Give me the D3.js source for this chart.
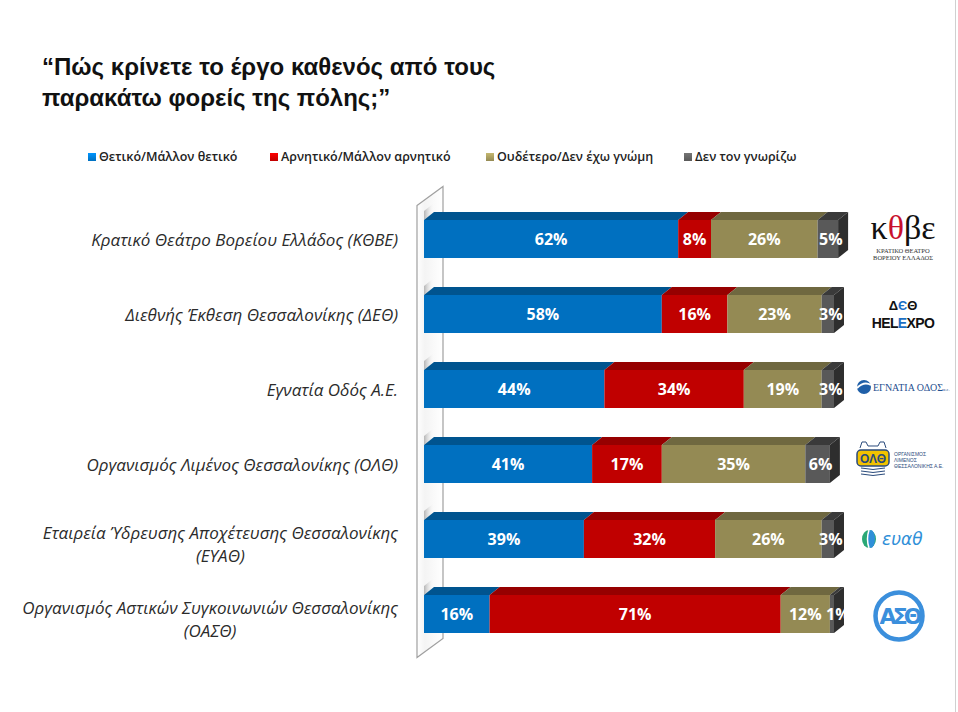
<!DOCTYPE html>
<html>
<head>
<meta charset="utf-8">
<script src="https://cdn.jsdelivr.net/npm/d3@7"></script>
<style>
  body { margin: 0; background: #fff; }
  svg { display: block; }
</style>
</head>
<body>
<div id="chart"></div>
<script>
// survey data, values in %
const categories = [
  "Κρατικό Θεάτρο Βορείου Ελλάδος (ΚΘΒΕ)",
  "Διεθνής Έκθεση Θεσσαλονίκης (ΔΕΘ)",
  "Εγνατία Οδός Α.Ε.",
  "Οργανισμός Λιμένος Θεσσαλονίκης (ΟΛΘ)",
  "Εταιρεία Ύδρευσης Αποχέτευσης Θεσσαλονίκης|(ΕΥΑΘ)",
  "Οργανισμός Αστικών Συγκοινωνιών Θεσσαλονίκης|(ΟΑΣΘ)"
];
const positive = [62, 58, 44, 41, 39, 16];
const negative = [8, 16, 34, 17, 32, 71];
const neutral = [26, 23, 19, 35, 26, 12];
const unknown = [5, 3, 3, 6, 3, 1];
const seriesNames = ["Θετικό/Μάλλον θετικό", "Αρνητικό/Μάλλον αρνητικό", "Ουδέτερο/Δεν έχω γνώμη", "Δεν τον γνωρίζω"];
const logos = ["kthve", "deth", "egnatia", "olth", "eyath", "oasth"];

const W = 958, H = 712;
const frontCol = ["#0070c0", "#c00000", "#948a54", "#595959"];
const topCol = ["#00548f", "#960000", "#6f6840", "#3a3a3a"];
const sideCol = ["#004a80", "#800000", "#5e5836", "#2e2e2e"];
const keys = ["pos", "neg", "neu", "unk"];

const rows = categories.map((c, i) => ({
  name: c, pos: positive[i], neg: negative[i], neu: neutral[i], unk: unknown[i], logo: logos[i]
}));

const svg = d3.select("#chart").append("svg").attr("width", W).attr("height", H);

const defs = svg.append("defs");
const wallGrad = defs.append("linearGradient").attr("id", "wallGrad").attr("x1", 0).attr("x2", 1);
wallGrad.append("stop").attr("offset", 0).attr("stop-color", "#ffffff");
wallGrad.append("stop").attr("offset", 0.3).attr("stop-color", "#f4f4f4");
wallGrad.append("stop").attr("offset", 1).attr("stop-color", "#ffffff");
const shadeGrad = defs.append("linearGradient").attr("id", "shadeGrad").attr("x1", 0).attr("x2", 1);
shadeGrad.append("stop").attr("offset", 0).attr("stop-color", "#9a9a9a");
shadeGrad.append("stop").attr("offset", 1).attr("stop-color", "#ffffff").attr("stop-opacity", 0);
frontCol.forEach((c, i) => {
  const g = defs.append("linearGradient").attr("id", "leg" + i).attr("x1", 0).attr("x2", 0).attr("y1", 0).attr("y2", 1);
  g.append("stop").attr("offset", 0).attr("stop-color", d3.color(c).brighter(0.8));
  g.append("stop").attr("offset", 1).attr("stop-color", c);
});

// title
const title = svg.append("text")
  .style("font-family", "'Liberation Sans', Arial, sans-serif")
  .style("font-weight", "bold").style("font-size", "24px").attr("fill", "#111");
title.append("tspan").attr("x", 42).attr("y", 75).text("“Πώς κρίνετε το έργο καθενός από τους");
title.append("tspan").attr("x", 42).attr("y", 106).text("παρακάτω φορείς της πόλης;”");

// legend
const legendX = [88, 270, 486, 684];
const legend = svg.append("g").selectAll("g").data(seriesNames).join("g")
  .attr("transform", (d, i) => `translate(${legendX[i]},161)`);
legend.append("rect").attr("x", 0).attr("y", -8).attr("width", 8).attr("height", 8)
  .attr("fill", (d, i) => `url(#leg${i})`);
legend.append("text").attr("x", 11).attr("y", 0)
  .style("font-family", "'Open Sans', sans-serif").style("font-size", "12.5px").style("font-weight", 600)
  .attr("fill", "#222").text(d => d);

// scales
const x = d3.scaleLinear().domain([0, 100]).range([424, 834]);
const y = d3.scaleBand().domain(categories).range([201.5, 651.5]).paddingInner(0.4933).paddingOuter(0.2467);
const dx = 10, dy = -8;

// left 3D wall
const wallTop = y.range()[0] + 4, wallBot = y.range()[1] + 6;
svg.append("path")
  .attr("d", `M417,${wallTop} L443,${wallTop - 19} L443,${wallBot - 19} L417,${wallBot} Z`)
  .attr("fill", "url(#wallGrad)").attr("stroke", "#a0a0a0").attr("stroke-width", 1.2);

const stack = d3.stack().keys(keys)(rows);

const bars = svg.append("g");
rows.forEach((r, ri) => {
  const y0 = y(r.name), bh = y.bandwidth();
  // shadow on wall above the bar
  bars.append("path")
    .attr("d", `M424,${y0} L434,${y0 + dy} L434,${y0 + dy - 9} L424,${y0 - 9} Z`)
    .attr("fill", "url(#shadeGrad)").attr("opacity", 0.7);
  stack.forEach((s, si) => {
    const d = s[ri];
    const a = x(d[0]), b = x(d[1]);
    bars.append("path")
      .attr("d", `M${a},${y0} L${a + dx},${y0 + dy} L${b + dx},${y0 + dy} L${b},${y0} Z`)
      .attr("fill", topCol[si]);
    bars.append("rect").attr("x", a).attr("y", y0).attr("width", b - a).attr("height", bh)
      .attr("fill", frontCol[si]);
    if (si === keys.length - 1) {
      bars.append("path")
        .attr("d", `M${b},${y0} L${b + dx},${y0 + dy} L${b + dx},${y0 + bh + dy} L${b},${y0 + bh} Z`)
        .attr("fill", sideCol[si]);
    }
  });
  stack.forEach((s, si) => {
    const d = s[ri];
    const a = x(d[0]), b = x(d[1]);
    const shift = si === 3 ? Math.max(3, 10 - (b - a)) : 0;
    bars.append("text")
      .attr("x", (a + b) / 2 + shift)
      .attr("y", y0 + bh / 2 + 6)
      .attr("text-anchor", "middle")
      .style("font-family", "'Open Sans', sans-serif").style("font-weight", "bold").style("font-size", "16px")
      .attr("fill", "#fff").text(d.data[keys[si]] + "%");
  });
});

// category labels
rows.forEach(r => {
  const lines = r.name.split("|");
  const cy = y(r.name) + y.bandwidth() / 2;
  const t = svg.append("text")
    .style("font-family", "'Open Sans', sans-serif").style("font-style", "italic").style("font-size", "17px")
    .attr("fill", "#2b2b2b");
  if (lines.length === 1) {
    t.attr("x", 398).attr("y", cy + 7).attr("text-anchor", "end").text(lines[0]);
  } else {
    const t1 = t.append("tspan").attr("x", 398).attr("y", cy).attr("text-anchor", "end").text(lines[0]);
    const w = t1.node().getComputedTextLength();
    t.append("tspan").attr("x", 398 - w / 2).attr("y", cy + 23).attr("text-anchor", "middle").text(lines[1]);
  }
});

// logos
const logoG = svg.append("g");
rows.forEach(r => {
  const cy = y(r.name) + y.bandwidth() / 2;
  const g = logoG.append("g").attr("transform", `translate(0,${cy})`);
  if (r.logo === "kthve") {
    g.append("text").attr("x", 903).attr("y", 0).attr("text-anchor", "middle")
      .style("font-family", "'Liberation Serif', serif").style("font-size", "34px").attr("fill", "#111")
      .html('κ<tspan fill="#c8102e">θ</tspan>βε');
    g.append("text").attr("x", 903).attr("y", 14).attr("text-anchor", "middle")
      .style("font-family", "'Liberation Serif', serif").style("font-size", "6.5px").attr("fill", "#333")
      .text("ΚΡΑΤΙΚΟ ΘΕΑΤΡΟ");
    g.append("text").attr("x", 903).attr("y", 21).attr("text-anchor", "middle")
      .style("font-family", "'Liberation Serif', serif").style("font-size", "6.5px").attr("fill", "#333")
      .text("ΒΟΡΕΙΟΥ ΕΛΛΑΔΟΣ");
  } else if (r.logo === "deth") {
    g.append("text").attr("x", 903).attr("y", -4).attr("text-anchor", "middle")
      .style("font-family", "'Liberation Sans', sans-serif").style("font-weight", "bold").style("font-size", "13px")
      .attr("fill", "#111").html('Δ<tspan fill="#1a6fc4">Є</tspan>Θ');
    g.append("text").attr("x", 903).attr("y", 14).attr("text-anchor", "middle")
      .style("font-family", "'Liberation Sans', sans-serif").style("font-weight", "bold").style("font-size", "14px")
      .style("letter-spacing", "-0.6px")
      .attr("fill", "#111").html('HEL<tspan fill="#1a6fc4">E</tspan>XPO');
  } else if (r.logo === "egnatia") {
    g.append("circle").attr("cx", 864).attr("cy", -2).attr("r", 7).attr("fill", "#1f5fa8");
    g.append("path").attr("d", "M857,-1 Q864,-8 871,-4").attr("stroke", "#fff").attr("stroke-width", 2).attr("fill", "none");
    g.append("text").attr("x", 873).attr("y", 2)
      .style("font-family", "'Liberation Serif', serif").style("font-size", "10px").attr("fill", "#1f4f8f")
      .html('ΕΓΝΑΤΙΑ ΟΔΟΣ<tspan font-size="4.5px">α.ε.</tspan>');
  } else if (r.logo === "olth") {
    g.append("path").attr("d", "M860,-16 L862,-22 L866,-22 L868,-18 L878,-18 L880,-22 L884,-22 L886,-16")
      .attr("fill", "none").attr("stroke", "#2a4b7c").attr("stroke-width", 1);
    g.append("rect").attr("x", 857).attr("y", -14).attr("width", 32).attr("height", 16).attr("rx", 4)
      .attr("fill", "#f2c200").attr("stroke", "#2a4b7c").attr("stroke-width", 1.5);
    g.append("text").attr("x", 873).attr("y", -1).attr("text-anchor", "middle")
      .style("font-family", "'Liberation Sans', sans-serif").style("font-weight", "bold").style("font-size", "12px")
      .attr("fill", "#2a4b7c").text("ΟΛΘ");
    [4, 7, 10].forEach(o => g.append("path").attr("d", `M861,${o} Q873,${o + 3} 885,${o}`)
      .attr("fill", "none").attr("stroke", "#2a4b7c").attr("stroke-width", 1));
    ["ΟΡΓΑΝΙΣΜΟΣ", "ΛΙΜΕΝΟΣ", "ΘΕΣΣΑΛΟΝΙΚΗΣ Α.Ε."].forEach((s, k) =>
      g.append("text").attr("x", 894).attr("y", -8 + k * 6)
        .style("font-family", "'Liberation Sans', sans-serif").style("font-size", "5px").attr("fill", "#2a4b7c").text(s));
  } else if (r.logo === "eyath") {
    g.append("ellipse").attr("cx", 869).attr("cy", 0).attr("rx", 7).attr("ry", 9).attr("fill", "#2aa876");
    g.append("ellipse").attr("cx", 871).attr("cy", 0).attr("rx", 4).attr("ry", 9).attr("fill", "#2f8fd8");
    g.append("path").attr("d", "M869,-9 Q866,0 869,9").attr("stroke", "#fff").attr("stroke-width", 1.5).attr("fill", "none");
    g.append("text").attr("x", 882).attr("y", 6)
      .style("font-family", "'DejaVu Sans', sans-serif").style("font-style", "italic").style("font-size", "17px")
      .attr("fill", "#2f8fd8").text("ευαθ");
  } else if (r.logo === "oasth") {
    g.append("circle").attr("cx", 899).attr("cy", 2).attr("r", 23.5).attr("fill", "none")
      .attr("stroke", "#3b8fdc").attr("stroke-width", 4.5);
    g.append("text").attr("x", 899).attr("y", 10).attr("text-anchor", "middle")
      .style("font-family", "'DejaVu Sans', sans-serif").style("font-weight", "bold").style("font-size", "22px")
      .style("letter-spacing", "-4px")
      .attr("fill", "#3b8fdc").text("ΑΣΘ");
  }
});

// right slide edge
svg.append("line").attr("x1", 955.5).attr("x2", 955.5).attr("y1", 0).attr("y2", H)
  .attr("stroke", "#d0d0d0").attr("stroke-width", 1);
</script>
</body>
</html>
